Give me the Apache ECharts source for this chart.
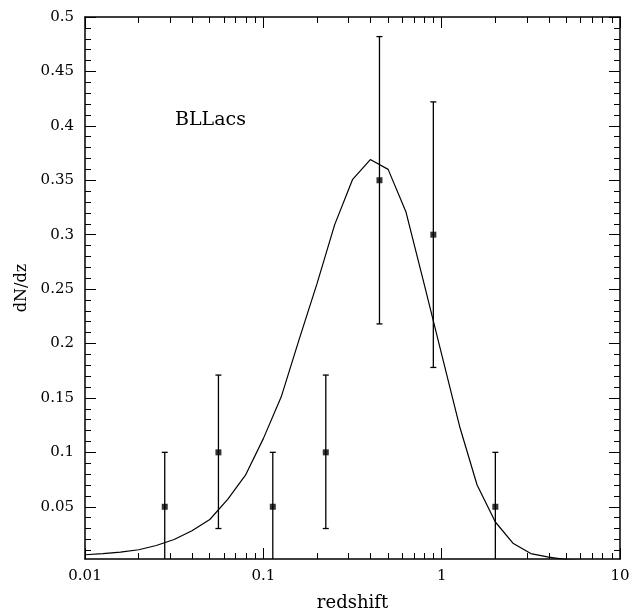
<!DOCTYPE html>
<html>
<head>
<meta charset="utf-8">
<script src="https://cdn.jsdelivr.net/npm/echarts@6/dist/echarts.min.js"></script>
<style>html,body{margin:0;padding:0;background:#fff;}#chart{width:632px;height:613px;}</style>
</head>
<body>
<div id="chart"></div>
<script>
// Observed data points (redshift bins)
const zValues = [0.028, 0.056, 0.113, 0.224, 0.448, 0.898, 2.0];
const dndzValues = [0.05, 0.10, 0.05, 0.10, 0.35, 0.30, 0.05];
const errLow = [0.0, 0.03, 0.0, 0.03, 0.218, 0.178, 0.0];
const errHigh = [0.10, 0.171, 0.10, 0.171, 0.482, 0.422, 0.10];

// Model curve
const modelZ = [0.01, 0.0126, 0.0158, 0.02, 0.0251, 0.0316, 0.0398, 0.0501, 0.0631, 0.0794,
  0.1, 0.126, 0.158, 0.2, 0.251, 0.316, 0.398, 0.501, 0.631, 0.794,
  1, 1.26, 1.58, 2.0, 2.51, 3.16, 3.98, 5.01, 6.31, 7.94, 10];
const modelDndz = [0.0059, 0.007, 0.0084, 0.0105, 0.0144, 0.0199, 0.028, 0.0383, 0.0567, 0.079,
  0.1126, 0.151, 0.2026, 0.255, 0.309, 0.3505, 0.369, 0.36, 0.3208, 0.256,
  0.19, 0.124, 0.07, 0.036, 0.0165, 0.007, 0.0037, 0.0015, 0.0006, 0.0002, 0.0001];

// Ticks
const xMajorTicks = [0.01, 0.1, 1, 10];
const xMinorTicks = [0.02,0.03,0.04,0.05,0.06,0.07,0.08,0.09,
  0.2,0.3,0.4,0.5,0.6,0.7,0.8,0.9, 2,3,4,5,6,7,8,9];
const yMajorTicks = [0.05,0.1,0.15,0.2,0.25,0.3,0.35,0.4,0.45,0.5];
const yMinorTicks = [0.01,0.02,0.03,0.04,0.06,0.07,0.08,0.09,0.11,0.12,0.13,0.14,
  0.16,0.17,0.18,0.19,0.21,0.22,0.23,0.24,0.26,0.27,0.28,0.29,0.31,0.32,0.33,0.34,
  0.36,0.37,0.38,0.39,0.41,0.42,0.43,0.44,0.46,0.47,0.48,0.49];

const FONT = 'DejaVu Serif';
const chart = echarts.init(document.getElementById('chart'), null, {renderer: 'canvas'});

function xAx(pos, major, showLabel, showLine) {
  return {
    type: 'log', logBase: 10, min: 0.01, max: 10, position: pos,
    name: showLabel ? 'redshift' : '', nameLocation: 'middle', nameGap: 35,
    nameTextStyle: {fontFamily: FONT, fontSize: 18, color: '#000'},
    axisLine: {show: showLine, onZero: false, lineStyle: {color: '#000', width: 1.5}},
    axisTick: {show: true, inside: true, length: major ? 11 : 6,
      customValues: major ? xMajorTicks : xMinorTicks,
      lineStyle: {color: '#000', width: 1}},
    axisLabel: {show: showLabel, margin: 10, fontFamily: FONT, fontSize: 15, color: '#000',
      customValues: showLabel ? xMajorTicks : undefined,
      formatter: v => String(v)},
    splitLine: {show: false}, minorTick: {show: false}
  };
}
function yAx(pos, major, showLabel, showLine) {
  return {
    type: 'value', min: 0.002, max: 0.5, position: pos,
    name: showLabel ? 'dN/dz' : '', nameLocation: 'middle', nameGap: 54, nameRotate: 90,
    nameTextStyle: {fontFamily: FONT, fontSize: 16, color: '#000'},
    axisLine: {show: showLine, onZero: false, lineStyle: {color: '#000', width: 1.5}},
    axisTick: {show: true, inside: true, length: major ? 11 : 6,
      customValues: major ? yMajorTicks : yMinorTicks,
      lineStyle: {color: '#000', width: 1}},
    axisLabel: {show: showLabel, margin: 11, fontFamily: FONT, fontSize: 15, color: '#000',
      customValues: showLabel ? yMajorTicks : undefined,
      formatter: v => String(v)},
    splitLine: {show: false}
  };
}

const obs = zValues.map((z, i) => [z, dndzValues[i], errLow[i], errHigh[i]]);

chart.setOption({
  animation: false,
  backgroundColor: '#fff',
  grid: {left: 85, right: 12, top: 17, bottom: 54, containLabel: false, outerBoundsMode: 'none'},
  xAxis: [xAx('bottom', true, true, true), xAx('bottom', false, false, false),
          xAx('top', true, false, true), xAx('top', false, false, false)],
  yAxis: [yAx('left', true, true, true), yAx('left', false, false, false),
          yAx('right', true, false, true), yAx('right', false, false, false)],
  graphic: [{type: 'text', left: 175, top: 111,
    style: {text: 'BLLacs', font: '19px "DejaVu Serif"', fill: '#000'}}],
  series: [
    {
      type: 'line', name: 'model', xAxisIndex: 0, yAxisIndex: 0,
      data: modelZ.map((z, i) => [z, modelDndz[i]]),
      showSymbol: false, symbol: 'none', clip: true,
      lineStyle: {color: '#000', width: 1.2}
    },
    {
      type: 'custom', name: 'errors', xAxisIndex: 0, yAxisIndex: 0, clip: true,
      data: obs,
      encode: {x: 0, y: 1},
      renderItem: function (params, api) {
        const x = api.value(0);
        const lo = api.coord([x, api.value(2)]);
        const hi = api.coord([x, api.value(3)]);
        const cw = 3;
        const st = {stroke: '#000', lineWidth: 1.3};
        return {type: 'group', children: [
          {type: 'line', shape: {x1: hi[0], y1: hi[1], x2: lo[0], y2: lo[1]}, style: st},
          {type: 'line', shape: {x1: hi[0] - cw, y1: hi[1], x2: hi[0] + cw, y2: hi[1]}, style: st},
          {type: 'line', shape: {x1: lo[0] - cw, y1: lo[1], x2: lo[0] + cw, y2: lo[1]}, style: st}
        ]};
      }
    },
    {
      type: 'scatter', name: 'data', xAxisIndex: 0, yAxisIndex: 0,
      data: obs.map(d => [d[0], d[1]]),
      symbol: 'rect', symbolSize: 6, itemStyle: {color: '#000'}
    }
  ]
});
</script>
</body>
</html>
